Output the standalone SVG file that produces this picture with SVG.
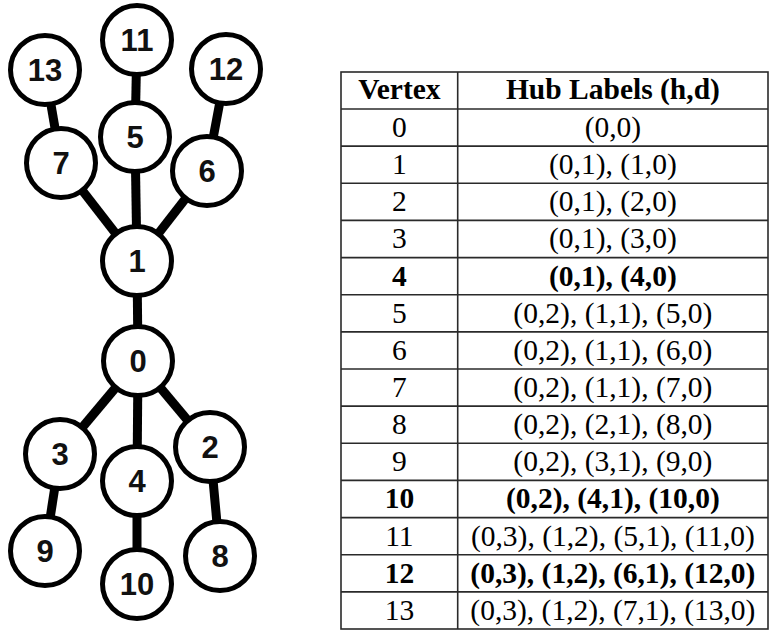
<svg xmlns="http://www.w3.org/2000/svg" width="770" height="630" viewBox="0 0 770 630">
  <style>
    .edge { stroke: #000; stroke-width: 9; stroke-linecap: butt; }
    .node circle { fill: #fff; stroke: #000; stroke-width: 5; }
    .node text { font-family: "Liberation Sans", Arial, sans-serif; font-weight: bold; font-size: 31px; text-anchor: middle; fill: #111; }
    .grid { stroke: #2a2a2a; stroke-width: 1.6; fill: none; }
    .cell { font-family: "Liberation Serif", "Times New Roman", serif; font-size: 29.5px; text-anchor: middle; fill: #000; }
    .b { font-weight: bold; }
  </style>
  <rect width="770" height="630" fill="#fff"/>
  <g id="connectors">
    <line class="edge" x1="45" y1="70" x2="61" y2="163"/>
    <line class="edge" x1="137" y1="40" x2="135" y2="137"/>
    <line class="edge" x1="226" y1="69" x2="207" y2="171"/>
    <line class="edge" x1="61" y1="163" x2="137" y2="261"/>
    <line class="edge" x1="135" y1="137" x2="137" y2="261"/>
    <line class="edge" x1="207" y1="171" x2="137" y2="261"/>
    <line class="edge" x1="137" y1="261" x2="138" y2="361"/>
    <line class="edge" x1="138" y1="361" x2="60" y2="454"/>
    <line class="edge" x1="138" y1="361" x2="137" y2="481"/>
    <line class="edge" x1="138" y1="361" x2="210" y2="447"/>
    <line class="edge" x1="60" y1="454" x2="45" y2="551"/>
    <line class="edge" x1="137" y1="481" x2="137" y2="584"/>
    <line class="edge" x1="210" y1="447" x2="220" y2="556"/>
  </g>
  <g id="n13" class="node"><circle cx="45" cy="70" r="34.5"/><text x="45" y="81">13</text></g>
  <g id="n11" class="node"><circle cx="137" cy="40" r="34.5"/><text x="137" y="51">11</text></g>
  <g id="n12" class="node"><circle cx="226" cy="69" r="34.5"/><text x="226" y="80">12</text></g>
  <g id="n7" class="node"><circle cx="61" cy="163" r="34.5"/><text x="61" y="174">7</text></g>
  <g id="n5" class="node"><circle cx="135" cy="137" r="34.5"/><text x="135" y="148">5</text></g>
  <g id="n6" class="node"><circle cx="207" cy="171" r="34.5"/><text x="207" y="182">6</text></g>
  <g id="n1" class="node"><circle cx="137" cy="261" r="34.5"/><text x="137" y="272">1</text></g>
  <g id="n0" class="node"><circle cx="138" cy="361" r="34.5"/><text x="138" y="372">0</text></g>
  <g id="n3" class="node"><circle cx="60" cy="454" r="34.5"/><text x="60" y="465">3</text></g>
  <g id="n4" class="node"><circle cx="137" cy="481" r="34.5"/><text x="137" y="492">4</text></g>
  <g id="n2" class="node"><circle cx="210" cy="447" r="34.5"/><text x="210" y="458">2</text></g>
  <g id="n9" class="node"><circle cx="45" cy="551" r="34.5"/><text x="45" y="562">9</text></g>
  <g id="n10" class="node"><circle cx="137" cy="584" r="34.5"/><text x="137" y="595">10</text></g>
  <g id="n8" class="node"><circle cx="220" cy="556" r="34.5"/><text x="220" y="567">8</text></g>
  <g id="table">
    <rect class="grid" x="341" y="72" width="427" height="557"/>
    <line class="grid" x1="457.7" y1="72" x2="457.7" y2="629"/>
    <line class="grid" x1="341" y1="109" x2="768" y2="109"/>
    <line class="grid" x1="341" y1="146.1" x2="768" y2="146.1"/>
    <line class="grid" x1="341" y1="183.3" x2="768" y2="183.3"/>
    <line class="grid" x1="341" y1="220.4" x2="768" y2="220.4"/>
    <line class="grid" x1="341" y1="257.6" x2="768" y2="257.6"/>
    <line class="grid" x1="341" y1="294.7" x2="768" y2="294.7"/>
    <line class="grid" x1="341" y1="331.9" x2="768" y2="331.9"/>
    <line class="grid" x1="341" y1="369" x2="768" y2="369"/>
    <line class="grid" x1="341" y1="406.1" x2="768" y2="406.1"/>
    <line class="grid" x1="341" y1="443.3" x2="768" y2="443.3"/>
    <line class="grid" x1="341" y1="480.4" x2="768" y2="480.4"/>
    <line class="grid" x1="341" y1="517.6" x2="768" y2="517.6"/>
    <line class="grid" x1="341" y1="554.7" x2="768" y2="554.7"/>
    <line class="grid" x1="341" y1="591.9" x2="768" y2="591.9"/>
    <text class="cell b" x="399.4" y="99">Vertex</text>
    <text class="cell b" x="612.9" y="99">Hub Labels (h,d)</text>
    <text class="cell" x="399.4" y="137">0</text><text class="cell" x="612.9" y="137">(0,0)</text>
    <text class="cell" x="399.4" y="174.1">1</text><text class="cell" x="612.9" y="174.1">(0,1), (1,0)</text>
    <text class="cell" x="399.4" y="211.3">2</text><text class="cell" x="612.9" y="211.3">(0,1), (2,0)</text>
    <text class="cell" x="399.4" y="248.4">3</text><text class="cell" x="612.9" y="248.4">(0,1), (3,0)</text>
    <text class="cell b" x="399.4" y="285.6">4</text><text class="cell b" x="612.9" y="285.6">(0,1), (4,0)</text>
    <text class="cell" x="399.4" y="322.7">5</text><text class="cell" x="612.9" y="322.7">(0,2), (1,1), (5,0)</text>
    <text class="cell" x="399.4" y="359.9">6</text><text class="cell" x="612.9" y="359.9">(0,2), (1,1), (6,0)</text>
    <text class="cell" x="399.4" y="397">7</text><text class="cell" x="612.9" y="397">(0,2), (1,1), (7,0)</text>
    <text class="cell" x="399.4" y="434.1">8</text><text class="cell" x="612.9" y="434.1">(0,2), (2,1), (8,0)</text>
    <text class="cell" x="399.4" y="471.3">9</text><text class="cell" x="612.9" y="471.3">(0,2), (3,1), (9,0)</text>
    <text class="cell b" x="399.4" y="508.4">10</text><text class="cell b" x="612.9" y="508.4">(0,2), (4,1), (10,0)</text>
    <text class="cell" x="399.4" y="545.6">11</text><text class="cell" x="612.9" y="545.6">(0,3), (1,2), (5,1), (11,0)</text>
    <text class="cell b" x="399.4" y="582.7">12</text><text class="cell b" x="612.9" y="582.7">(0,3), (1,2), (6,1), (12,0)</text>
    <text class="cell" x="399.4" y="619.9">13</text><text class="cell" x="612.9" y="619.9">(0,3), (1,2), (7,1), (13,0)</text>
  </g>
</svg>
